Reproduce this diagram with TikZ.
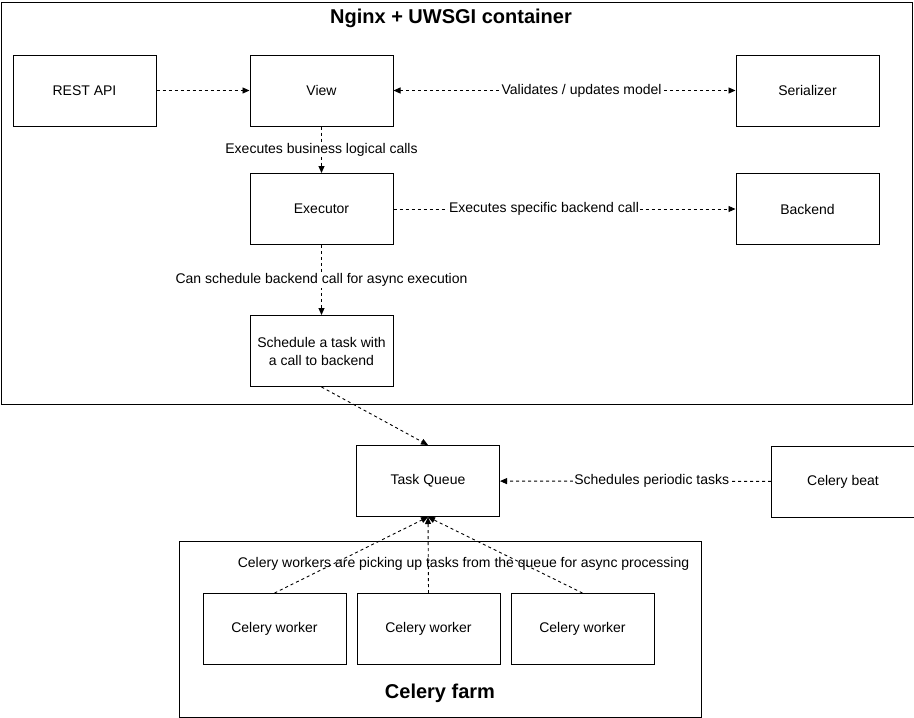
\documentclass[tikz,border=0pt]{standalone}
\usepackage{fontspec}
\setmainfont{Liberation Sans}
\usetikzlibrary{arrows.meta}

\tikzset{
  box/.style={draw, line width=1pt, minimum width=143pt, minimum height=71pt,
    inner sep=0pt, align=center, font=\fontsize{14}{18}\selectfont},
  flow/.style={line width=0.9pt, dash pattern=on 3pt off 3pt,
    -{Triangle[length=7pt,width=6pt]}},
  twoway/.style={flow, {Triangle[length=7pt,width=6pt]}-{Triangle[length=7pt,width=6pt]}},
  note/.style={fill=white, inner sep=1pt, font=\fontsize{14}{17}\selectfont},
  heading/.style={font=\fontsize{20}{24}\selectfont\bfseries},
}

\begin{document}
\begin{tikzpicture}[x=1pt,y=-1pt]

\useasboundingbox (0,0) rectangle (914,718) ;

\draw[line width=1pt] (1,2) rectangle (912,404) ;
\node (nginx_title) [heading] at (451,18) {Nginx + UWSGI container} ;

\draw[line width=1pt] (179,541) rectangle (701,717) ;
\node (farm_title) [heading] at (440,693) {Celery farm} ;

\node (rest_api) [box] at (84.5,90.5) {REST API} ;
\node (view) [box] at (321.5,90.5) {View} ;
\node (serializer) [box] at (807.5,90.5) {Serializer} ;
\node (executor) [box] at (321.5,209) {Executor} ;
\node (backend) [box] at (807.5,209) {Backend} ;
\node (schedule) [box] at (321.5,351) {Schedule a task with\\a call to backend} ;

\node (queue) [box] at (428,481) {Task Queue} ;
\node (beat) [box] at (843,481.5) {Celery beat} ;

\node (worker_a) [box] at (274.5,629) {Celery worker} ;
\node (worker_b) [box] at (428.5,629) {Celery worker} ;
\node (worker_c) [box] at (582.5,629) {Celery worker} ;

\draw[flow] (rest_api) -- (view) ;
\draw[twoway] (view) -- node[note,pos=0.55] {Validates / updates model} (serializer) ;
\draw[flow] (view) -- node[note] {Executes business logical calls} (executor) ;
\draw[flow] (executor) -- node[note,pos=0.44] {Executes specific backend call} (backend) ;
\draw[flow] (executor) -- node[note] {Can schedule backend call for async execution} (schedule) ;

\draw[flow] (schedule.south) -- (queue.north) ;
\draw[flow] (beat) -- node[note,pos=0.44] {Schedules periodic tasks} (queue) ;

\draw[flow] (worker_a.north) -- (queue.south) ;
\draw[flow] (worker_b.north) -- (queue.south) ;
\draw[flow] (worker_c.north) -- (queue.south) ;

\node (pickup_label) [font=\fontsize{14}{17}\selectfont] at (463.5,564) {Celery workers are picking up tasks from the queue for async processing} ;

\end{tikzpicture}
\end{document}
